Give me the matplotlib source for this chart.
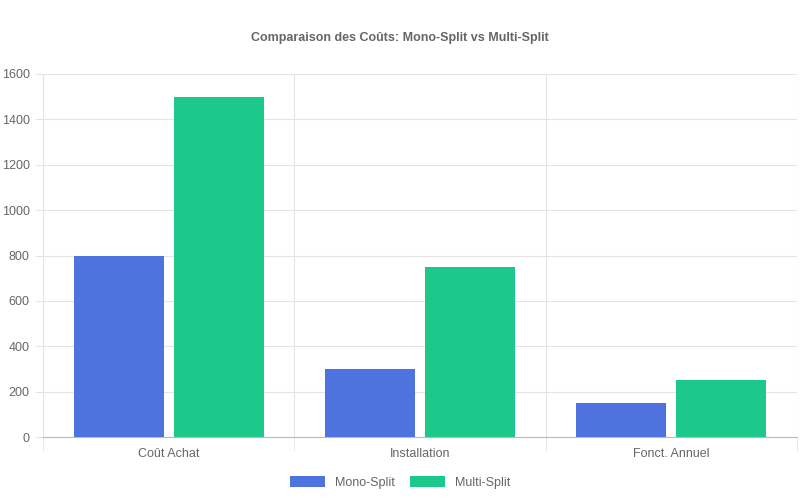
import matplotlib.pyplot as plt
import numpy as np

plt.rcParams['font.family'] = ['Liberation Sans', 'DejaVu Sans']

categories = ['Coût Achat', 'Installation', 'Fonct. Annuel']
mono_split = [800, 300, 150]
multi_split = [1500, 750, 250]

fig = plt.figure(figsize=(8, 5), dpi=100)
ax = fig.add_axes([43 / 800, 63 / 500, 754 / 800, 363 / 500])

x = np.arange(len(categories)) + 0.5
w = 90 / 251
gap = 10 / 251
ax.bar(x - gap / 2 - w / 2, mono_split, w, color='#4e73df', label='Mono-Split', zorder=3)
ax.bar(x + gap / 2 + w / 2, multi_split, w, color='#1cc88a', label='Multi-Split', zorder=3)

ax.set_xlim(0, 3)
ax.set_ylim(0, 1600)
ax.set_yticks(range(0, 1601, 200))
ax.set_xticks(x)
ax.set_xticklabels(categories)
ax.set_xticks([0, 1, 2, 3], minor=True)
ax.grid(axis='y', color='#e5e5e5', linewidth=0.8, zorder=0)
ax.grid(axis='x', which='minor', color='#e5e5e5', linewidth=0.8, zorder=0)
ax.tick_params(axis='x', which='major', length=0, pad=8, labelcolor='#666666', labelsize=9)
ax.tick_params(axis='x', which='minor', length=10, color='#e5e5e5')
ax.tick_params(axis='y', length=6, color='#e5e5e5', labelcolor='#666666', labelsize=9)
for s in ['top', 'right']:
    ax.spines[s].set_visible(False)
ax.spines['left'].set_color('#e5e5e5')
ax.spines['bottom'].set_color('#bbbbbb')

fig.suptitle('Comparaison des Coûts: Mono-Split vs Multi-Split', y=0.935,
             fontsize=9, fontweight='bold', color='#666666')
fig.legend(loc='lower center', bbox_to_anchor=(0.5, 0.0), ncol=2, frameon=False,
           fontsize=9, labelcolor='#666666', handlelength=2.8, handleheight=0.9,
           columnspacing=1.2)

fig.savefig('out.png', dpi=100)
